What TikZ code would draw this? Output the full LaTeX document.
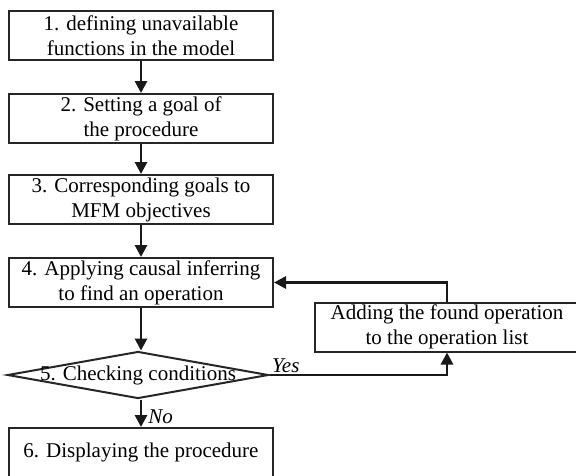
\documentclass[tikz,border=0pt]{standalone}
\usepackage{fontspec}
\setmainfont{Liberation Serif}
\usetikzlibrary{arrows.meta,shapes.geometric}
\begin{document}
\begin{tikzpicture}[x=1pt,y=-1pt,
  stepbox/.style={draw=black!85, line width=2pt, minimum width=264pt, minimum height=49pt,
    inner sep=1pt, align=center, font=\fontsize{21}{25}\selectfont},
  flow/.style={draw=black!90, line width=2.8pt, -{Triangle[length=12pt,width=12pt]}},
  lbl/.style={font=\fontsize{21}{24}\selectfont\itshape, inner sep=1pt}]
\useasboundingbox (0,0) rectangle (576,475);
\clip (0,0) rectangle (576,475);
\node[stepbox] (b1) at (141,35.5) {1. defining unavailable\\functions in the model};
\node[stepbox] (b2) at (141,118.5) {2. Setting a goal of\\the procedure};
\node[stepbox] (b3) at (141,199.5) {3. Corresponding goals to\\MFM objectives};
\node[stepbox] (b4) at (141,282.5) {4. Applying causal inferring\\to find an operation};
\node[stepbox] (add) at (447,327) {Adding the found operation\\to the operation list};
\node[diamond, draw=black!85, line width=2pt, minimum width=261pt, minimum height=47pt,
  inner sep=0pt, label={[font=\fontsize{21}{24}\selectfont]center:5. Checking conditions}] (d5) at (138,375) {};
\node[stepbox] (b6) at (141,452.5) {6. Displaying the procedure};
\draw[flow] (b1.south) -- (b2.north);
\draw[flow] (b2.south) -- (b3.north);
\draw[flow] (b3.south) -- (b4.north);
\draw[flow] (b4.south) -- (b4.south |- d5.north);
\draw[flow] (b6.north |- d5.south) -- (b6.north) node[lbl, midway, right, xshift=5pt, yshift=-3pt] (no) {No};
\draw[flow] (d5.east) -| (add.south);
\node[lbl, anchor=south west] (yes) at (271,374) {Yes};
\draw[flow] (add.north) |- (b4.east);
\end{tikzpicture}
\end{document}
